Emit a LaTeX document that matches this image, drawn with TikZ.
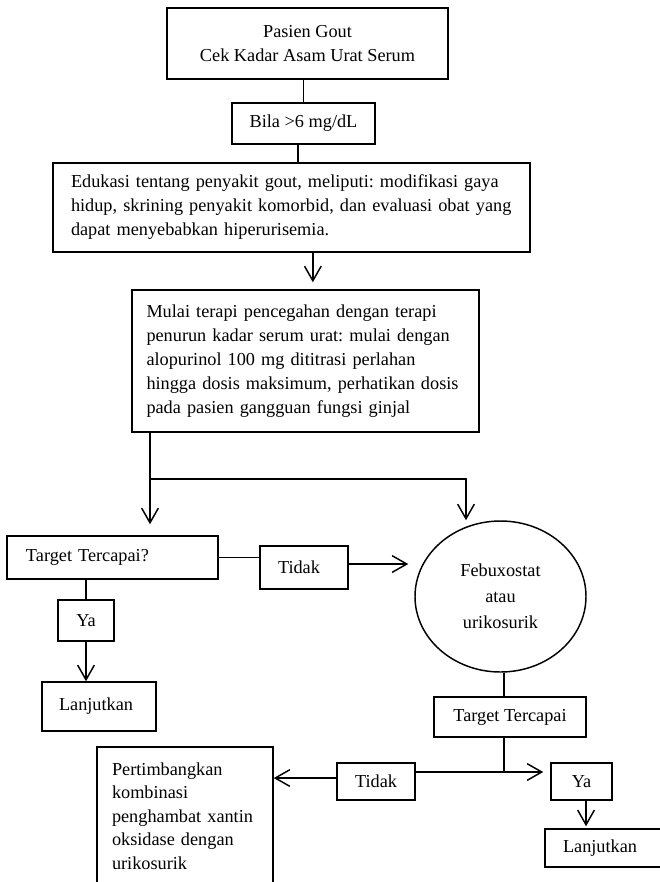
\documentclass[tikz,border=0pt]{standalone}
\usepackage{fontspec}
\setmainfont{Liberation Serif}
\usetikzlibrary{arrows.meta,shapes.geometric,calc}
\tikzset{
  box/.style={draw, rectangle, line width=1.1pt, inner ysep=0pt},
  cbox/.style={box, align=center, inner xsep=0pt},
  lbox/.style={box, align=left},
  conn/.style={line width=1.1pt},
  arr/.style={conn, -{Straight Barb[length=11pt,width=12.5pt,line width=1.1pt]}},
}
\frenchspacing
\begin{document}
\begin{tikzpicture}[x=0.75pt,y=-0.75pt,font=\fontsize{13.7pt}{18pt}\selectfont]
\useasboundingbox (0,0) rectangle (660,882);

\node[cbox, minimum width=210.75pt, minimum height=53.25pt] (top) at (307.5,43.5)
  {Pasien Gout\\Cek Kadar Asam Urat Serum};
\node[cbox, minimum width=107.25pt, minimum height=30.75pt] (bila) at (303.5,123.5)
  {Bila >6 mg/dL};
\node[lbox, minimum width=357.75pt, minimum height=66.75pt, inner xsep=13.5pt, text width=330.75pt] (edu) at (291.5,207.5)
  {Edukasi tentang penyakit gout, meliputi: modifikasi gaya\\hidup, skrining penyakit komorbid, dan evaluasi obat yang\\dapat menyebabkan hiperurisemia.};
\node[lbox, minimum width=260.25pt, minimum height=106.5pt, inner xsep=10.875pt, text width=238.5pt] (mulai) at (305.5,361)
  {Mulai terapi pencegahan dengan terapi\\penurun kadar serum urat: mulai dengan\\alopurinol 100 mg dititrasi perlahan\\hingga dosis maksimum, perhatikan dosis\\pada pasien gangguan fungsi ginjal};
\node[lbox, minimum width=158.25pt, minimum height=32.25pt, inner xsep=14.25pt, text width=129.75pt] (target1) at (112.5,557.5)
  {Target Tercapai?};
\node[lbox, minimum width=66pt, minimum height=32.25pt, inner xsep=13.5pt, text width=39pt] (tidak1) at (304,567.5)
  {Tidak};
\node[cbox, minimum width=42pt, minimum height=30.75pt] (ya1) at (86,620.5) {Ya};
\node[lbox, minimum width=85.5pt, minimum height=36.75pt, inner xsep=12.75pt, text width=60pt] (lanj1) at (99,706.5)
  {Lanjutkan};
\node[draw, ellipse, line width=1.1pt, minimum width=128.25pt, minimum height=113.25pt, inner sep=0pt, align=center,
  font=\fontsize{13.7pt}{19.5pt}\selectfont] (feb) at (500.5,596.5)
  {Febuxostat\\atau\\urikosurik};
\node[cbox, minimum width=114pt, minimum height=30pt] (target2) at (510,717) {Target Tercapai};
\node[cbox, minimum width=58.5pt, minimum height=27.75pt] (tidak2) at (376,781.5) {Tidak};
\node[cbox, minimum width=45.75pt, minimum height=27.75pt] (ya2) at (581.5,781.5) {Ya};
\node[lbox, minimum width=87.75pt, minimum height=28.5pt, inner xsep=13.5pt, text width=60.75pt] (lanj2) at (603.5,848)
  {Lanjutkan};
\node[lbox, minimum width=132pt, minimum height=103.5pt, inner xsep=11.25pt, text width=109.5pt,
  font=\fontsize{13.7pt}{17.6pt}\selectfont] (pert) at (185,816)
  {Pertimbangkan\\kombinasi\\penghambat xantin\\oksidase dengan\\urikosurik};

% connectors
\draw[conn] (bila.north) -- (bila.north |- top.south);
\draw[conn] ([xshift=-4.1pt]bila.south) -- ([xshift=-4.1pt]bila.south |- edu.north);
\draw[arr, shorten >=5.25pt] ([xshift=16pt]edu.south) -- ([xshift=16pt]edu.south |- mulai.north);

\coordinate (split) at (150,479);
\coordinate (fj) at (466,479);
\draw[conn] (split |- mulai.south) -- (split);
\draw[arr, shorten >=8.25pt] (split) -- (split |- target1.north);
\draw[arr] (split) -- (fj) -- (fj |- feb.north);

\draw[conn] (target1.east) -- (target1.east -| tidak1.west);
\draw[arr, shorten >=4.5pt] ([yshift=2.6pt]tidak1.east) -- ([yshift=2.6pt]tidak1.east -| feb.west);
\draw[conn] (ya1.north) -- (ya1.north |- target1.south);
\draw[arr] (ya1.south) -- (ya1.south |- lanj1.north);

\draw[conn] ([xshift=2.6pt]feb.south) -- ([xshift=2.6pt]feb.south |- target2.north);
\coordinate (j2) at (504,772);
\draw[conn] (j2 |- target2.south) -- (j2);
\draw[arr, shorten >=5.25pt] (j2 -| tidak2.east) -- (j2 -| ya2.west);
\draw[arr] ([yshift=2.6pt]tidak2.west) -- ([yshift=2.6pt]tidak2.west -| pert.east);
\draw[arr, shorten >=1.5pt] ([xshift=3.4pt]ya2.south) -- ([xshift=3.4pt]ya2.south |- lanj2.north);
\end{tikzpicture}
\end{document}
